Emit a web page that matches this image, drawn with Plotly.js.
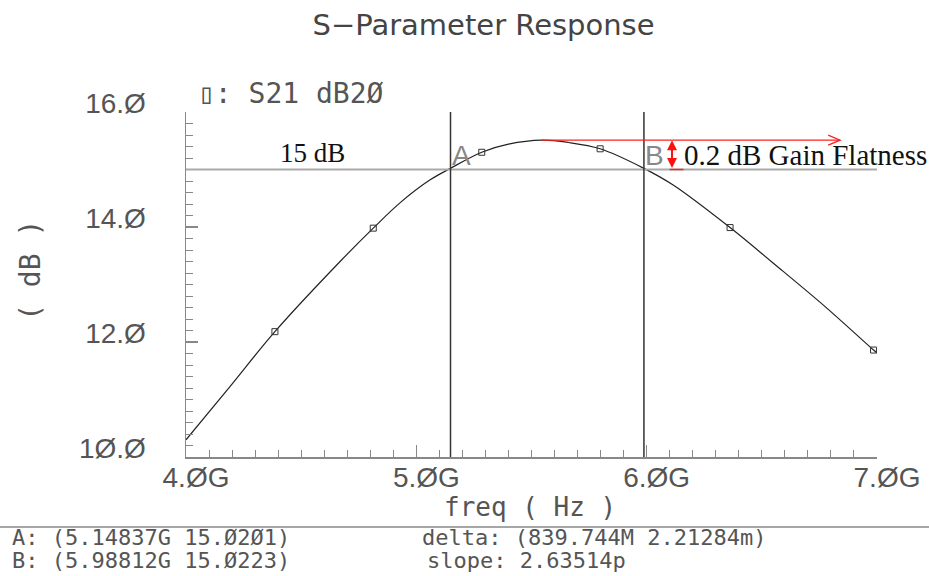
<!DOCTYPE html>
<html>
<head>
<meta charset="utf-8">
<script src="https://cdn.plot.ly/plotly-3.0.1.min.js"></script>
<style>html,body{margin:0;padding:0;background:#fff;}#chart{width:929px;height:576px;}</style>
</head>
<body>
<div id="chart"></div>
<script>
// ---- data ----
const freqGHz = [4.0, 4.19, 4.386, 4.669, 4.813, 4.929, 5.06, 5.148, 5.284, 5.40, 5.545, 5.66, 5.798, 5.988, 6.115, 6.362, 6.55, 6.782, 6.985, 7.0];
const s21dB   = [10.30, 11.22, 12.18, 13.40, 13.98, 14.42, 14.82, 15.02, 15.30, 15.44, 15.51, 15.47, 15.36, 15.02, 14.73, 13.99, 13.37, 12.59, 11.86, 11.81];
const symbolFreq = [4.386, 4.813, 5.284, 5.798, 6.362, 6.985];
const symbolDB   = [12.18, 13.98, 15.30, 15.36, 13.99, 11.86];
const markerA = [5.14837, 15.0201];
const markerB = [5.98812, 15.0223];
const refLevel = 15;
const peakDB = 15.51;
const peakFreq = 5.545;
const arrowEndFreq = 6.84;
const flatArrowFreq = 6.11;
const xTickVals = [4, 5, 6, 7];
const xTickText = ['4.ØG', '5.ØG', '6.ØG', '7.ØG'];
const yTickVals = [10, 12, 14, 16];
const yTickText = ['1Ø.Ø', '12.Ø', '14.Ø', '16.Ø'];
const readoutA = 'A: (5.14837G 15.Ø2Ø1)';
const readoutB = 'B: (5.98812G 15.Ø223)';
const readoutDelta = 'delta: (839.744M 2.21284m)';
const readoutSlope = 'slope: 2.63514p';

const SANS = 'Liberation Sans, Arial, sans-serif';
const DSANS = 'DejaVu Sans, sans-serif';
const MONO = 'DejaVu Sans Mono, monospace';
const SERIF = 'Liberation Serif, Times New Roman, serif';
const GRAY = '#555';

const traces = [
  {x: freqGHz, y: s21dB, mode: 'lines', line: {color: '#222', width: 1.2, shape: 'spline'}, hoverinfo: 'skip', showlegend: false},
  {x: symbolFreq, y: symbolDB, mode: 'markers', marker: {symbol: 'square-open', size: 6, color: '#333', line: {width: 1, color: '#333'}}, showlegend: false}
];

const axisCommon = {
  showgrid: false, zeroline: false, showline: true, linecolor: '#888', linewidth: 1.5,
  ticks: 'inside', ticklen: 12, tickcolor: '#888', tickwidth: 1.2,
  tickfont: {family: SANS, size: 28, color: GRAY}, fixedrange: true
};

const layout = {
  width: 929, height: 576,
  margin: {l: 186, r: 52, t: 112, b: 119},
  paper_bgcolor: '#fff', plot_bgcolor: '#fff',
  title: {text: 'S\u2212Parameter Response', x: 0.5205, xanchor: 'center', y: 0.957, yanchor: 'middle',
          font: {family: DSANS, size: 29, color: '#444'}},
  xaxis: Object.assign({}, axisCommon, {
    range: [4, 7], tickmode: 'array', tickvals: xTickVals, ticktext: xTickText,
    ticklabelstandoff: -5, ticklabelshift: 10,
    minor: {dtick: 0.1, ticks: 'inside', ticklen: 7, tickcolor: '#888', tickwidth: 1}
  }),
  yaxis: Object.assign({}, axisCommon, {
    range: [10, 16], tickmode: 'array', tickvals: yTickVals, ticktext: yTickText,
    ticklabelstandoff: 33, ticklabelshift: -9,
    minor: {dtick: 0.2, ticks: 'inside', ticklen: 7, tickcolor: '#888', tickwidth: 1}
  }),
  shapes: [
    {type: 'line', xref: 'x', yref: 'y', x0: 4, x1: 7, y0: refLevel, y1: refLevel, line: {color: '#aaa', width: 2.2}},
    {type: 'line', xref: 'x', yref: 'y', x0: markerA[0], x1: markerA[0], y0: 10, y1: 16, line: {color: '#333', width: 1.5}},
    {type: 'line', xref: 'x', yref: 'y', x0: markerB[0], x1: markerB[0], y0: 10, y1: 16, line: {color: '#333', width: 1.5}},
    {type: 'line', xref: 'x', yref: 'y', x0: peakFreq, x1: arrowEndFreq, y0: peakDB, y1: peakDB, line: {color: '#ff2020', width: 1.3}},
    {type: 'path', xref: 'x', yref: 'y', xsizemode: 'pixel', ysizemode: 'pixel', xanchor: arrowEndFreq, yanchor: peakDB,
     path: 'M-12,5 L0,0 L-12,-5', line: {color: '#ff2020', width: 1.3}},
    {type: 'line', xref: 'x', yref: 'y', x0: flatArrowFreq - 0.01, x1: flatArrowFreq + 0.05, y0: refLevel, y1: refLevel, line: {color: '#ff2020', width: 1.5}},
    {type: 'line', xref: 'paper', yref: 'paper', x0: -0.27, x1: 1.08, y0: -0.203, y1: -0.203, line: {color: '#888', width: 1.5}}
  ],
  annotations: [
    {x: flatArrowFreq, y: peakDB, ax: flatArrowFreq, ay: refLevel, xref: 'x', yref: 'y', axref: 'x', ayref: 'y',
     text: '', showarrow: true, arrowhead: 2, startarrowhead: 2, arrowside: 'end+start', arrowsize: 1, arrowwidth: 2, arrowcolor: '#ff1010'},
    {x: flatArrowFreq + 0.045, y: (refLevel + peakDB) / 2, xref: 'x', yref: 'y', xanchor: 'left', yanchor: 'middle', showarrow: false,
     text: '0.2 dB Gain Flatness', font: {family: SERIF, size: 29, color: '#111'}},
    {x: 4.55, y: refLevel, xref: 'x', yref: 'y', xanchor: 'center', yanchor: 'bottom', yshift: 0, showarrow: false,
     text: '15 dB', font: {family: SERIF, size: 27, color: '#111'}},
    {x: markerA[0], y: refLevel, xref: 'x', yref: 'y', xanchor: 'left', yanchor: 'bottom', xshift: -1, yshift: -3, showarrow: false,
     text: 'A', font: {family: SANS, size: 28, color: '#888'}},
    {x: markerB[0], y: refLevel, xref: 'x', yref: 'y', xanchor: 'left', yanchor: 'bottom', xshift: -1, yshift: -3, showarrow: false,
     text: 'B', font: {family: SANS, size: 28, color: '#888'}},
    {x: 0.015, y: 1.055, xref: 'paper', yref: 'paper', xanchor: 'left', yanchor: 'middle', showarrow: false,
     text: '\u25AF: S21 dB2Ø', font: {family: MONO, size: 28, color: GRAY}},
    {x: 0.498, y: -0.145, xref: 'paper', yref: 'paper', xanchor: 'center', yanchor: 'middle', showarrow: false,
     text: 'freq ( Hz )', font: {family: MONO, size: 26, color: GRAY}},
    {x: -0.226, y: 0.542, xref: 'paper', yref: 'paper', xanchor: 'center', yanchor: 'middle', textangle: -90, showarrow: false,
     text: '( dB )', font: {family: MONO, size: 28, color: GRAY}},
    {x: -0.255, y: -0.232, xref: 'paper', yref: 'paper', xanchor: 'left', yanchor: 'middle', showarrow: false,
     text: readoutA, font: {family: MONO, size: 22, color: GRAY}},
    {x: -0.255, y: -0.301, xref: 'paper', yref: 'paper', xanchor: 'left', yanchor: 'middle', showarrow: false,
     text: readoutB, font: {family: MONO, size: 22, color: GRAY}},
    {x: 0.339, y: -0.232, xref: 'paper', yref: 'paper', xanchor: 'left', yanchor: 'middle', showarrow: false,
     text: readoutDelta, font: {family: MONO, size: 22, color: GRAY}},
    {x: 0.346, y: -0.301, xref: 'paper', yref: 'paper', xanchor: 'left', yanchor: 'middle', showarrow: false,
     text: readoutSlope, font: {family: MONO, size: 22, color: GRAY}}
  ]
};

Plotly.newPlot('chart', traces, layout, {displayModeBar: false, staticPlot: true});
</script>
</body>
</html>
